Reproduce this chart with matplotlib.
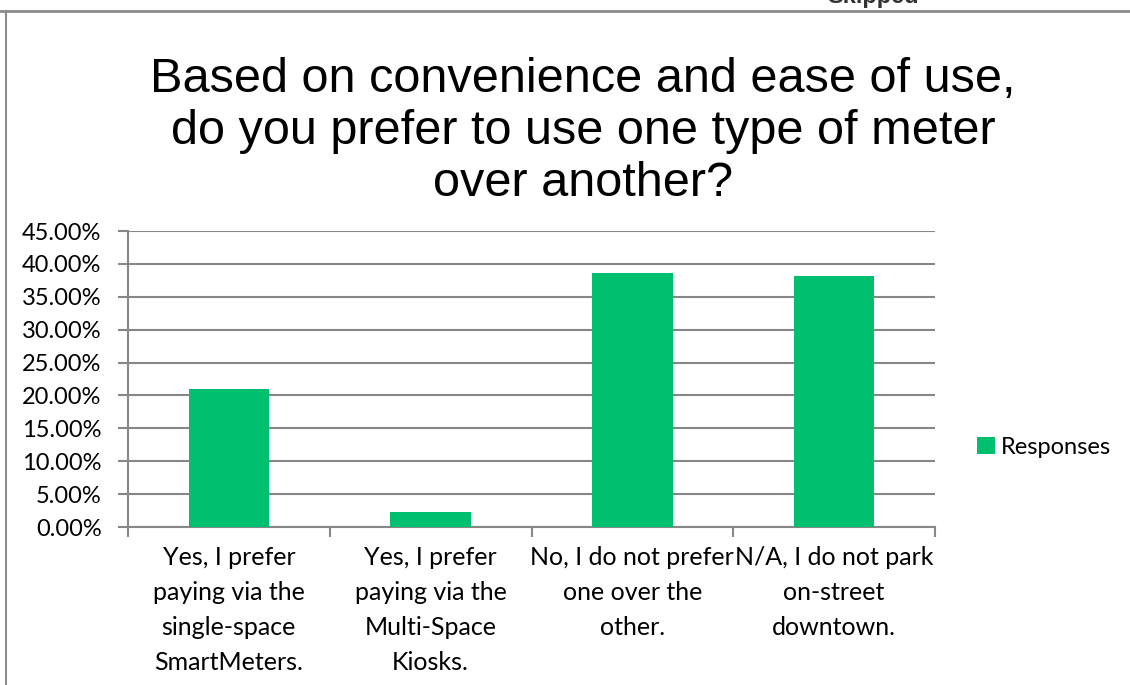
import numpy as np
import matplotlib
matplotlib.use("Agg")
from matplotlib import pyplot as plt
from matplotlib.patches import Patch
from matplotlib.lines import Line2D

# survey data
categories = ["Yes, I prefer\npaying via the\nsingle-space\nSmartMeters.",
              "Yes, I prefer\npaying via the\nMulti-Space\nKiosks.",
              "No, I do not prefer\none over the\nother.",
              "N/A, I do not park\non-street\ndowntown."]
responses = [20.93, 2.33, 38.60, 38.14]
y_ticks = [0, 5, 10, 15, 20, 25, 30, 35, 40, 45]

W, H = 1130, 685
green = "#00BF6F"
grid_grey = "#878787"

fig = plt.figure(figsize=(W / 100, H / 100), dpi=100)
fig.patch.set_facecolor("white")

ax = fig.add_axes([128 / W, 1 - 527 / H, (935 - 128) / W, (527 - 231) / H])
x = np.arange(len(categories))
ax.bar(x, responses, width=0.4, color=green, edgecolor="none", zorder=3, label="Responses")

ax.set_ylim(0, 45)
ax.set_xlim(-0.5, len(categories) - 0.5)
ax.set_yticks(y_ticks)
ax.set_yticklabels(["%.2f%%" % v for v in y_ticks], fontsize=17, family="Lato")
ax.yaxis.grid(True, color=grid_grey, linewidth=1.5, zorder=0)
ax.tick_params(axis="y", length=7, width=1.5, color=grid_grey, pad=12)

# ticks at category boundaries, labels at centres
ax.set_xticks(np.arange(-0.5, len(categories), 1.0))
ax.set_xticklabels([])
ax.set_xticks(x, minor=True)
ax.set_xticklabels(categories, minor=True, fontsize=18, family="Lato", linespacing=1.62)
ax.tick_params(axis="x", which="major", length=7, width=1.5, color=grid_grey)
ax.tick_params(axis="x", which="minor", length=0, pad=14)

for s in ["top", "right"]:
    ax.spines[s].set_visible(False)
for s in ["left", "bottom"]:
    ax.spines[s].set_color(grid_grey)
    ax.spines[s].set_linewidth(1.5)

fig.text(583 / W, 1 - 131 / H,
         "Based on convenience and ease of use,\ndo you prefer to use one type of meter\nover another?",
         ha="center", va="center", fontsize=35, family="Liberation Sans", linespacing=1.2)

leg = fig.legend(handles=[Patch(facecolor=green, edgecolor="none", label="Responses")],
                 loc="center left", bbox_to_anchor=(977 / W, 1 - 447 / H),
                 frameon=False, borderpad=0, borderaxespad=0,
                 handlelength=0.75, handleheight=0.75, handletextpad=0.25,
                 prop={"family": "Lato", "size": 17})

# page frame and clipped header text
fig.add_artist(Line2D([0, 1], [1 - 11 / H, 1 - 11 / H], transform=fig.transFigure,
                      color="#8c8c8c", linewidth=2))
fig.add_artist(Line2D([6 / W, 6 / W], [0, 1 - 11 / H], transform=fig.transFigure,
                      color="#8c8c8c", linewidth=1.5))
fig.text(873 / W, 1 - 3 / H, "Skipped", ha="center", va="baseline",
         fontsize=17, fontweight="bold", family="Liberation Sans", color="#333333")

fig.savefig("out.png", dpi=100)
